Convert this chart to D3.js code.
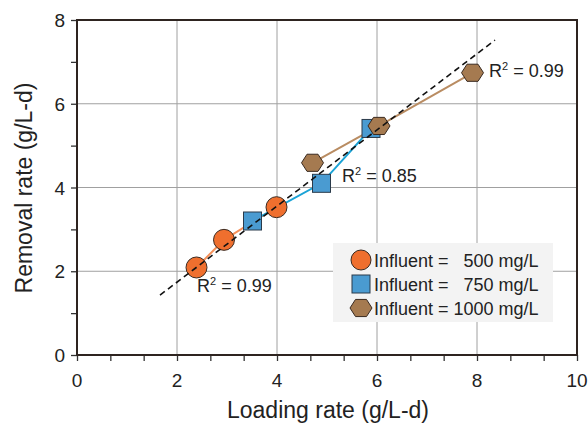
<!DOCTYPE html>
<html>
<head>
<meta charset="utf-8">
<script src="https://cdn.jsdelivr.net/npm/d3@7"></script>
<style>
  body { margin: 0; background: #fff; }
  text { font-family: "Liberation Sans", Arial, sans-serif; fill: #222; }
</style>
</head>
<body>
<div id="chart"></div>
<script>
// data
var series500 = [[2.39, 2.09], [2.94, 2.75], [3.99, 3.53]];
var series750 = [[3.51, 3.20], [4.89, 4.10], [5.88, 5.41]];
var series1000 = [[4.71, 4.59], [6.04, 5.47], [7.91, 6.74]];
var fitLine = [[1.66, 1.43], [8.36, 7.52]];
var xTicks = [0, 2, 4, 6, 8, 10];
var yTicks = [0, 2, 4, 6, 8];
var r2Labels = [
  { x: 2.4, y: 1.5, text: "0.99" },
  { x: 5.3, y: 4.12, text: "0.85" },
  { x: 8.24, y: 6.63, text: "0.99" }
];
var legendLabels = ["Influent =   500 mg/L", "Influent =   750 mg/L", "Influent = 1000 mg/L"];

var svgWidth = 588;
var svgHeight = 426;
var margin = { top: 20, right: 11, bottom: 71, left: 77 };
var width = svgWidth - margin.left - margin.right;
var height = svgHeight - margin.top - margin.bottom;

var svg = d3.select("#chart").append("svg")
  .attr("width", svgWidth)
  .attr("height", svgHeight);

var chartGroup = svg.append("g")
  .attr("transform", `translate(${margin.left}, ${margin.top})`);

var xLinearScale = d3.scaleLinear().domain([0, 10]).range([0, width]);
var yLinearScale = d3.scaleLinear().domain([0, 8]).range([height, 0]);

// grid
chartGroup.selectAll(".vgrid")
  .data(xTicks.slice(1, -1))
  .enter().append("line")
  .attr("x1", d => xLinearScale(d)).attr("x2", d => xLinearScale(d))
  .attr("y1", 0).attr("y2", height)
  .attr("stroke", "#a0a0a0").attr("stroke-width", 1);
chartGroup.selectAll(".hgrid")
  .data(yTicks.slice(1, -1))
  .enter().append("line")
  .attr("x1", 0).attr("x2", width)
  .attr("y1", d => yLinearScale(d)).attr("y2", d => yLinearScale(d))
  .attr("stroke", "#a0a0a0").attr("stroke-width", 1);

// axes
var xMinor = d3.range(0, 10.01, 2 / 3);
var bottomAxis = d3.axisBottom(xLinearScale).tickValues(xMinor).tickSize(6).tickFormat("");
var leftMinor = d3.axisLeft(yLinearScale).tickValues(d3.range(0, 8.01, 1)).tickSize(6).tickFormat("");

var xAxis = chartGroup.append("g")
  .attr("transform", `translate(0, ${height})`)
  .call(bottomAxis);
var yAxis = chartGroup.append("g").call(leftMinor);
[xAxis, yAxis].forEach(function (ax) {
  ax.select(".domain").remove();
  ax.selectAll("line").attr("stroke", "#333").attr("stroke-width", 1.3);
});

chartGroup.selectAll(".xlab")
  .data(xTicks).enter().append("text")
  .attr("x", d => xLinearScale(d))
  .attr("y", height + 32)
  .attr("text-anchor", "middle")
  .attr("font-size", 19)
  .text(d => d);
chartGroup.selectAll(".ylab")
  .data(yTicks).enter().append("text")
  .attr("x", -12)
  .attr("y", d => yLinearScale(d) + 7)
  .attr("text-anchor", "end")
  .attr("font-size", 19)
  .text(d => d);

// frame
chartGroup.append("rect")
  .attr("width", width).attr("height", height)
  .attr("fill", "none").attr("stroke", "#2e2420").attr("stroke-width", 2);

// connecting lines
var line = d3.line().x(d => xLinearScale(d[0])).y(d => yLinearScale(d[1]));
chartGroup.append("path").datum(series500).attr("d", line)
  .attr("fill", "none").attr("stroke", "#f4905a").attr("stroke-width", 2);
chartGroup.append("path").datum(series750).attr("d", line)
  .attr("fill", "none").attr("stroke", "#1ba3d6").attr("stroke-width", 2);
chartGroup.append("path").datum(series1000).attr("d", line)
  .attr("fill", "none").attr("stroke", "#b98c62").attr("stroke-width", 2);

// markers
function hexPath(r) {
  var pts = d3.range(6).map(function (i) {
    var a = Math.PI / 3 * i;
    return [r * Math.cos(a), r * 0.9 * Math.sin(a)];
  });
  return "M" + pts.map(p => p.join(",")).join("L") + "Z";
}

chartGroup.selectAll(".c500")
  .data(series500).enter().append("circle")
  .attr("cx", d => xLinearScale(d[0]))
  .attr("cy", d => yLinearScale(d[1]))
  .attr("r", 10.5)
  .attr("fill", "#ef6f2e").attr("stroke", "#3a2a20").attr("stroke-width", 1);

chartGroup.selectAll(".s750")
  .data(series750).enter().append("rect")
  .attr("x", d => xLinearScale(d[0]) - 9)
  .attr("y", d => yLinearScale(d[1]) - 9)
  .attr("width", 18).attr("height", 18)
  .attr("fill", "#4a9bd1").attr("stroke", "#2a3a4a").attr("stroke-width", 1);

chartGroup.selectAll(".h1000")
  .data(series1000).enter().append("path")
  .attr("transform", d => `translate(${xLinearScale(d[0])}, ${yLinearScale(d[1])})`)
  .attr("d", hexPath(11))
  .attr("fill", "#a57a50").attr("stroke", "#3a2a20").attr("stroke-width", 1);

// fitted dashed line
chartGroup.append("path").datum(fitLine).attr("d", line)
  .attr("fill", "none").attr("stroke", "#111").attr("stroke-width", 1.6)
  .attr("stroke-dasharray", "6,4");

// R² labels
r2Labels.forEach(function (l) {
  var t = chartGroup.append("text")
    .attr("x", xLinearScale(l.x))
    .attr("y", yLinearScale(l.y))
    .attr("font-size", 18);
  t.append("tspan").text("R");
  t.append("tspan").attr("font-size", 11).attr("dy", -7).text("2");
  t.append("tspan").attr("dy", 7).text(" = " + l.text);
});

// legend
var legend = chartGroup.append("g").attr("transform", "translate(256, 223)");
legend.append("rect")
  .attr("width", 220).attr("height", 79)
  .attr("fill", "#f3f3f3");
var rowY = [17, 41, 65];
legend.append("circle").attr("cx", 28).attr("cy", rowY[0]).attr("r", 10)
  .attr("fill", "#ef6f2e").attr("stroke", "#3a2a20");
legend.append("rect").attr("x", 19).attr("y", rowY[1] - 9).attr("width", 18).attr("height", 18)
  .attr("fill", "#4a9bd1").attr("stroke", "#2a3a4a");
legend.append("path").attr("transform", `translate(28, ${rowY[2]})`).attr("d", hexPath(11))
  .attr("fill", "#a57a50").attr("stroke", "#3a2a20");
legend.selectAll(".lt")
  .data(legendLabels).enter().append("text")
  .attr("x", 41)
  .attr("y", (d, i) => rowY[i] + 6.5)
  .attr("font-size", 18)
  .attr("xml:space", "preserve")
  .style("white-space", "pre")
  .text(d => d);

// axis titles
svg.append("text")
  .attr("x", 328).attr("y", 418)
  .attr("text-anchor", "middle")
  .attr("font-size", 23)
  .text("Loading rate (g/L-d)");
svg.append("text")
  .attr("transform", "translate(32, 188) rotate(-90)")
  .attr("text-anchor", "middle")
  .attr("font-size", 23)
  .text("Removal rate (g/L-d)");
</script>
</body>
</html>
